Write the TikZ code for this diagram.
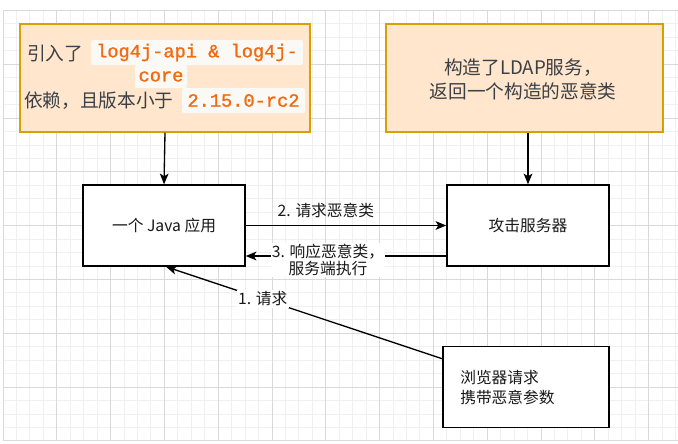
\documentclass[tikz,border=0pt]{standalone}
\usepackage{fontspec}
\setmainfont{Noto Sans CJK SC}
\newfontfamily\codefont[FakeBold=1.2]{Liberation Mono}
\usetikzlibrary{arrows.meta,calc}
\definecolor{peach}{HTML}{FFE6CC}
\definecolor{gold}{HTML}{D8A000}
\definecolor{slate}{HTML}{3B3F46}
\definecolor{codeor}{HTML}{F26A10}
\definecolor{codebg}{HTML}{FBF9F6}
\definecolor{gridmin}{HTML}{F0F0F0}
\definecolor{gridmaj}{HTML}{D9D9D9}
\tikzset{
  notebox/.style={draw=gold, fill=peach, line width=1pt, minimum width=#1, minimum height=81pt, inner sep=0pt},
  plainbox/.style={draw=black, fill=white, line width=1.1pt, minimum width=#1, minimum height=60.75pt, inner sep=0pt},
  boxtext/.style={inner sep=0pt, text=black!90, font=\fontsize{11.8pt}{15pt}\selectfont},
  notetext/.style={inner sep=0pt, text=slate, font=\fontsize{14pt}{18pt}\selectfont},
  codechip/.style={fill=codebg, rounded corners=1.5pt, inner xsep=0pt, inner ysep=0pt, minimum width=#1, minimum height=18.75pt, text=codeor, font=\codefont\fontsize{14pt}{16pt}\selectfont},
  flow/.style={draw=black, line width=1pt, -{Stealth[length=8pt,width=6.5pt,inset=2pt]}},
  flowlabel/.style={inner sep=1pt, text=black!90, font=\fontsize{11.8pt}{12.75pt}\selectfont},
}
\begin{document}
\begin{tikzpicture}[x=0.75pt,y=-0.75pt]
\useasboundingbox (0,0) rectangle (678,443);
\fill[white] (0,0) rectangle (678,443);
% grid
\foreach \i in {0,...,50} {
  \draw[gridmin, line width=0.75pt] ({3+\i*13.45},10.5) -- ({3+\i*13.45},441);
}
\foreach \j in {0,...,32} {
  \draw[gridmin, line width=0.75pt] (3,{10.5+\j*13.45}) -- (678,{10.5+\j*13.45});
}
\foreach \i in {0,4,...,48} {
  \draw[gridmaj, line width=0.75pt] ({3+\i*13.45},10.5) -- ({3+\i*13.45},441);
}
\foreach \j in {0,4,...,32} {
  \draw[gridmaj, line width=0.75pt] (3,{10.5+\j*13.45}) -- (678,{10.5+\j*13.45});
}
% top notes
\node[notebox=217.5pt] (dep) at (165,78) {};
\node[notetext, anchor=west] (depa) at (27,53) {引入了};
\node[codechip=159pt] (code1) at (197,52.5) {log4j-api \& log4j-};
\node[codechip=39pt, minimum height=17.25pt] (code2) at (161,76.5) {core};
\node[notetext, anchor=west] (depb) at (24,101) {依赖，且版本小于};
\node[codechip=92.25pt] (code3) at (243.5,100.5) {2.15.0-rc2};

\node[notebox=207.75pt] (ldap) at (524.5,78) {};
\node[notetext, align=center] (ldapt) at (523,79.5) {构造了LDAP服务，\\返回一个构造的恶意类};

% main boxes
\node[plainbox=121.5pt, boxtext] (java) at (164,225.5) {一个 Java 应用};
\node[plainbox=121.5pt, boxtext] (attack) at (528,225.5) {攻击服务器};
\node[plainbox=124.5pt] (browser) at (526,387) {};
\node[boxtext, align=left, anchor=west] (browsert) at (460,388) {浏览器请求\\携带恶意参数};

% connectors
\draw[flow] (dep.south) -- (java.north);
\draw[flow] (attack.north |- ldap.south) -- (attack.north);
\draw[flow] (java.east) -- node[flowlabel, above=4pt, pos=0.4] (l2) {2. 请求恶意类} (attack.west);
\coordinate (a3s) at ($(attack.west)+(0,30.5)$);
\coordinate (a3e) at ($(java.east)+(0,30.5)$);
\draw[flow] (a3s) -- node[flowlabel, fill=white, align=center, pos=0.59, yshift=-3pt] (l3) {3. 响应恶意类，\\服务端执行} (a3e);
\coordinate (b1) at ($(browser.north west)+(0,13)$);
\draw[flow] (b1) -- node[flowlabel, fill=white, pos=0.65] (l1) {1. 请求} ([xshift=1.5pt]java.south);
\end{tikzpicture}
\end{document}
